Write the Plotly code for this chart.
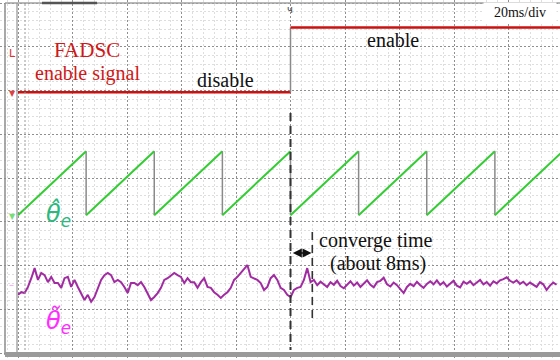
import plotly.graph_objects as go

# ---------------- data ----------------
# CH1: FADSC enable signal (logic level), switches on at 100 ms
fadsc_time = [0.0, 100.0, 100.0, 200.0]
fadsc_state = [0, 0, 1, 1]

# CH2: estimated electrical angle (deg), sawtooth resets (ms)
theta_hat_resets = [0, 25, 50, 75, 100, 125, 150, 175, 200]
theta_hat_range = [0, 360]

# CH3: angle estimation error (deg), sampled every 1.22 ms from t = 0
err_dt_ms = 1.22
theta_err_deg = [
    -2.7, -2.1, -2.3, -0.9, 1.1, 3.4, 0.7, 2.3, 1.8, 0.2,
    1.4, 0.0, 0.0, -1.1, 1.1, 1.4, -0.9, 0.7, -0.9, -2.3,
    -3.9, -2.7, -4.3, -3.2, -1.1, 0.7, 1.8, 2.3, 1.8, 0.2,
    0.7, 0.2, -0.9, -2.3, 0.0, 0.0, -0.5, 0.2, -0.9, -2.3,
    -3.9, -3.2, -2.3, -1.1, 0.7, 1.1, 1.8, 2.3, 1.8, 1.4,
    0.0, 1.1, 0.2, 0.2, -1.1, 0.2, 1.1, -0.9, -1.1, -2.1,
    -2.7, -3.4, -2.7, -2.1, -1.1, 0.7, 1.4, 2.3, 3.0, 4.1,
    1.4, 1.1, 0.7, 0.0, -1.6, -0.9, 1.1, 1.8, 0.7,
    -1.1, -1.6, -2.7, -3.2, -1.6, -1.1, -0.9, 0.7, 3.4, 0.2, 0.7,
    -0.5, 0.3, -0.2, -0.9, 0.2, -0.4, 0.5, -0.7, -1.2, -0.3,
    0.4, -0.6, 0.1, -0.9, -0.2, 0.6, -0.4, -1.0, 0.2, 0.5,
    1.2, -0.3, -0.8, 0.1, -0.5, -1.4, -2.3, -0.9, -0.2, -0.7,
    0.3, -0.5, -1.1, -0.2, 0.4, -0.3, 0.6, -0.4, 0.2, -0.8,
    -0.1, 0.5, -0.6, -1.0, 0.3, -0.2, 0.4, -0.5, 0.1, 0.7,
    -0.3, 0.2, -0.6, 0.4, -0.1, 0.6, 0.9, 1.3, 0.5, 0.1,
    0.6, -0.2, 0.3, -0.5, 0.1, -0.4, -0.9, 0.2, -0.3, -1.6,
    -0.6, 0.1, -0.4,
]

enable_time_ms = 100
converge_time_ms = 8

# ---------------- channel settings (oscilloscope) ----------------
ch1_offset, ch1_scale = 1.96, 1.48      # div, div per logic level
ch2_offset, ch2_scale = -0.85, 246.0    # div, deg per div
ch3_offset, ch3_scale = -2.40, 10.0     # div, deg per div

# screen geometry helpers (for decorations / labels only)
W, H = 560, 360
T0_PX, PX_PER_MS = 18.0, 2.725
Y0_PX, PX_PER_DIV = 178.0, 43.75


def tx(px):
    return (px - T0_PX) / PX_PER_MS


def vy(py):
    return (Y0_PX - py) / PX_PER_DIV


def px_(px):
    return px / W


def py_(py):
    return 1 - py / H


fig = go.Figure()

# CH1 red
lvl = [ch1_offset + ch1_scale * s for s in fadsc_state]
fig.add_trace(go.Scatter(x=fadsc_time[:2], y=lvl[:2], mode="lines",
                         line=dict(color="#cc1111", width=2.6)))
fig.add_trace(go.Scatter(x=fadsc_time[1:3], y=lvl[1:3], mode="lines",
                         line=dict(color="#8a8a8a", width=1.5)))
fig.add_trace(go.Scatter(x=fadsc_time[2:], y=lvl[2:], mode="lines",
                         line=dict(color="#cc1111", width=2.6)))

# CH2 green sawtooth
lo = ch2_offset + theta_hat_range[0] / ch2_scale
hi = ch2_offset + theta_hat_range[1] / ch2_scale
rx, ry, dx, dy = [], [], [], []
for a, b in zip(theta_hat_resets[:-1], theta_hat_resets[1:]):
    rx += [a, b, None]
    ry += [lo, hi, None]
for b in theta_hat_resets[1:-1]:
    dx += [b, b, None]
    dy += [hi, lo, None]
fig.add_trace(go.Scatter(x=dx, y=dy, mode="lines",
                         line=dict(color="#8a8a8a", width=1.5)))
fig.add_trace(go.Scatter(x=rx, y=ry, mode="lines",
                         line=dict(color="#33cc33", width=2)))

# CH3 purple error
et = [i * err_dt_ms for i in range(len(theta_err_deg))]
ev = [ch3_offset + d / ch3_scale for d in theta_err_deg]
fig.add_trace(go.Scatter(x=et, y=ev, mode="lines",
                         line=dict(color="#a12ca1", width=2)))

shapes = []
# white left margin covering grid
shapes.append(dict(type="rect", xref="paper", yref="paper", x0=0, x1=px_(17),
                   y0=0, y1=1, fillcolor="white", line_width=0, layer="between"))
shapes.append(dict(type="rect", xref="paper", yref="paper", x0=0, x1=1,
                   y0=0, y1=py_(353), fillcolor="white", line_width=0, layer="between"))
# frame lines
shapes.append(dict(type="line", xref="paper", yref="paper", x0=px_(5), x1=px_(5),
                   y0=py_(3), y1=py_(355), line=dict(color="#8c8c8c", width=1.5)))
shapes.append(dict(type="line", xref="paper", yref="paper", x0=px_(17), x1=px_(17),
                   y0=py_(3), y1=py_(353), line=dict(color="#a8a8a8", width=1.5)))
shapes.append(dict(type="line", xref="paper", yref="paper", x0=px_(5), x1=1,
                   y0=py_(3), y1=py_(3), line=dict(color="#a0a0a0", width=1.5)))
shapes.append(dict(type="line", xref="paper", yref="paper", x0=px_(42), x1=px_(97),
                   y0=py_(3), y1=py_(3), line=dict(color="#555555", width=2.5)))
shapes.append(dict(type="rect", xref="paper", yref="paper", x0=px_(5), x1=1,
                   y0=py_(357), y1=py_(352), fillcolor="#9a9a9a", line_width=0))
# ruler dotted line near left edge
shapes.append(dict(type="line", xref="paper", yref="paper", x0=px_(25), x1=px_(25),
                   y0=py_(4), y1=py_(352), line=dict(color="#9a9a9a", width=1, dash="2px,2px")))
# converge markers
shapes.append(dict(type="line", xref="x", yref="y", x0=enable_time_ms, x1=enable_time_ms,
                   y0=vy(113), y1=vy(350), line=dict(color="#333333", width=2, dash="8px,5px")))
t2 = enable_time_ms + converge_time_ms
shapes.append(dict(type="line", xref="x", yref="y", x0=t2, x1=t2,
                   y0=vy(232), y1=vy(321), line=dict(color="#333333", width=1.6, dash="8px,5px")))

annotations = []


def txt(text, px, py, color, size, family="Liberation Serif", **kw):
    annotations.append(dict(text=text, x=px_(px), y=py_(py), xref="paper", yref="paper",
                            showarrow=False, xanchor="center", yanchor="middle",
                            font=dict(color=color, size=size, family=family), **kw))


txt("FADSC", 87, 50, "#d01818", 21)
txt("enable signal", 87, 74, "#d01818", 20)
txt("disable", 225, 80, "#111111", 20)
txt("enable", 393, 40, "#111111", 20)
txt("converge time", 376, 241, "#111111", 20)
txt("(about 8ms)", 378, 263, "#111111", 20)
annotations.append(dict(text="20ms/div", x=px_(519.5), y=py_(12.5), xref="paper", yref="paper",
                        showarrow=False, xanchor="center", yanchor="middle", bgcolor="white",
                        width=70, height=17, font=dict(color="#111111", size=14,
                                                       family="Liberation Serif")))
txt("<i>θ\u0302<sub>e</sub></i>", 58, 214, "#2db87d", 24, family="DejaVu Sans")
txt("<i>θ\u0303<sub>e</sub></i>", 58, 321, "#ff2eff", 24, family="DejaVu Sans")
txt("L", 12, 53, "#e03030", 11, family="DejaVu Sans")
txt("▼", 12, 94, "#e04040", 8, family="DejaVu Sans")
txt("▼", 12, 216, "#77dd77", 8, family="DejaVu Sans")
txt("–", 11, 284, "#ff99ff", 10, family="DejaVu Sans")
txt("ч", 290, 9, "#444444", 10, family="DejaVu Sans")

# double-headed arrow for convergence time
annotations.append(dict(x=t2 - 0.3, y=vy(253), ax=enable_time_ms + 0.3, ay=vy(253),
                        xref="x", yref="y", axref="x", ayref="y", text="",
                        showarrow=True, arrowhead=2, arrowside="end+start",
                        arrowsize=1.2, arrowwidth=1.5, arrowcolor="#111111"))

fig.update_layout(
    width=W, height=H, margin=dict(l=0, r=0, t=0, b=0),
    paper_bgcolor="white", plot_bgcolor="white", showlegend=False,
    shapes=shapes, annotations=annotations,
    xaxis=dict(range=[tx(0), tx(W)], showticklabels=False, zeroline=False,
               showline=False, ticks="", tick0=0, dtick=20, showgrid=True,
               gridcolor="#8f8f8f", griddash="2px,2px", gridwidth=1,
               minor=dict(dtick=4, tick0=0, showgrid=True, gridcolor="#dedede", gridwidth=1)),
    yaxis=dict(range=[vy(H), vy(0)], showticklabels=False, zeroline=False,
               showline=False, ticks="", tick0=0, dtick=1, showgrid=True,
               gridcolor="#8f8f8f", griddash="2px,2px", gridwidth=1,
               minor=dict(dtick=0.2, tick0=0, showgrid=True, gridcolor="#dedede", gridwidth=1)),
)

fig.write_html("out.html")
